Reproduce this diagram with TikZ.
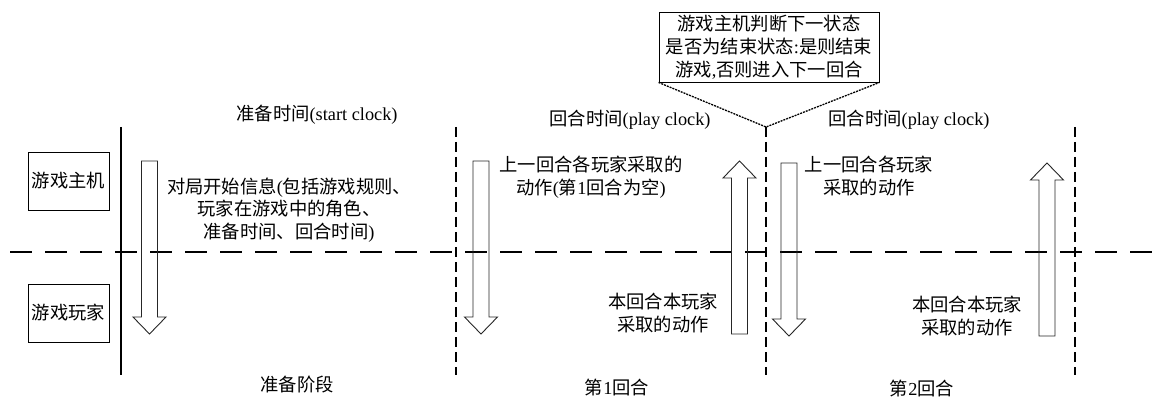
\documentclass[tikz,border=0pt]{standalone}
\usepackage{fontspec}
\setmainfont{Liberation Serif}
\newfontfamily\cjk{Noto Sans CJK SC}
\newcommand\zh[1]{{\cjk #1}}
\begin{document}
\begin{tikzpicture}[x=1pt,y=-1pt,
  every node/.style={font=\fontsize{18.3}{22.8}\selectfont, inner sep=0pt, align=center},
  labelbox/.style={draw, line width=0.9pt, minimum width=81pt, minimum height=58pt},
  calloutbox/.style={draw, line width=0.9pt, minimum width=220pt, minimum height=70pt},
  blockarrow/.style={draw=black!85, line width=0.9pt},
  solidline/.style={line width=1.1pt},
  roundline/.style={line width=1.8pt, dash pattern=on 10pt off 5pt},
  phaseline/.style={line width=2.6pt, dash pattern=on 22pt off 13pt},
  pointer/.style={line width=1.3pt, dash pattern=on 2pt off 1pt}]
\useasboundingbox (0,0) rectangle (1156,398);
\newcommand\mydarrow[3]{\draw[blockarrow] ({#1-8},#2) -- ({#1+8},#2) -- ({#1+8},{#3-17}) -- ({#1+16.5},{#3-17}) -- (#1,#3) -- ({#1-16.5},{#3-17}) -- ({#1-8},{#3-17}) -- cycle;}
\newcommand\myuarrow[3]{\draw[blockarrow] ({#1-8},#2) -- ({#1+8},#2) -- ({#1+8},{#3+17}) -- ({#1+16.5},{#3+17}) -- (#1,#3) -- ({#1-16.5},{#3+17}) -- ({#1-8},{#3+17}) -- cycle;}

% phase separators
\coordinate (h0) at (10,252); \coordinate (h1) at (1156,252);
\draw[phaseline] (h0) -- (h1);
\coordinate (s0) at (121,127); \coordinate (s1) at (121,375);
\draw[solidline] (s0) -- (s1);
\coordinate (r1a) at (456,127); \coordinate (r1b) at (456,375);
\coordinate (apex) at (766,127); \coordinate (r2b) at (766,375);
\coordinate (r3a) at (1075,127); \coordinate (r3b) at (1075,375);
\draw[roundline] (r1a) -- (r1b);
\draw[roundline] (apex) -- (r2b);
\draw[roundline] (r3a) -- (r3b);

% boxes
\node[labelbox] (host) at (68.5,181) {\zh{游戏主机}};
\node[labelbox] (player) at (68.5,313) {\zh{游戏玩家}};
\node[calloutbox] (call) at (769,47) {\zh{游戏主机判断下一状态}\\\zh{是否为结束状态}:\zh{是则结束}\\\zh{游戏},\zh{否则进入下一回合}};
\draw[pointer] (call.south west) -- (apex) -- (call.south east);

% arrows
\mydarrow{149.5}{161}{334}
\mydarrow{481}{161}{334}
\mydarrow{789}{163}{336}
\myuarrow{739.5}{334}{161}
\myuarrow{1047}{336}{163}

% labels
\node (t0) at (317,115) {\zh{准备时间}(start clock)};
\node (m0) at (289,210) {\zh{对局开始信息}(\zh{包括游戏规则、}\\\zh{玩家在游戏中的角色、}\\\zh{准备时间、回合时间})};
\node (p0) at (297,385) {\zh{准备阶段}};
\node (t1) at (630,120) {\zh{回合时间}(play clock)};
\node (m1) at (591,177) {\zh{上一回合各玩家采取的}\\\zh{动作}(\zh{第}1\zh{回合为空})};
\node (a1) at (663,313) {\zh{本回合本玩家}\\\zh{采取的动作}};
\node (p1) at (617,388) {\zh{第}1\zh{回合}};
\node (t2) at (909,120) {\zh{回合时间}(play clock)};
\node (m2) at (869,176) {\zh{上一回合各玩家}\\\zh{采取的动作}};
\node (a2) at (967,316) {\zh{本回合本玩家}\\\zh{采取的动作}};
\node (p2) at (922,389) {\zh{第}2\zh{回合}};
\end{tikzpicture}
\end{document}
